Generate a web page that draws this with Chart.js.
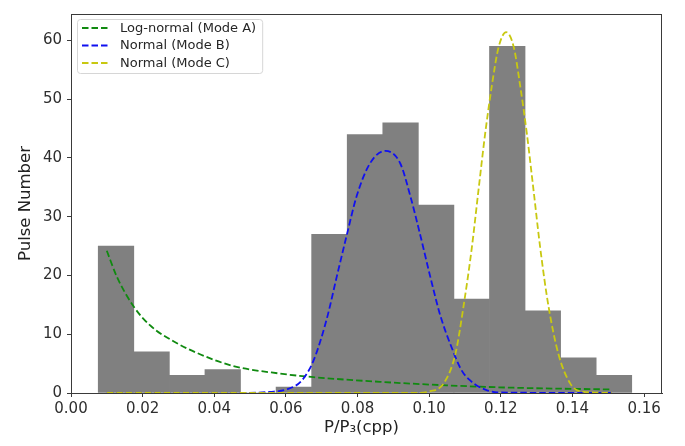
<!DOCTYPE html>
<html><head><meta charset="utf-8">
<script src="https://cdn.jsdelivr.net/npm/chart.js@4/dist/chart.umd.min.js"></script>
<style>html,body{margin:0;padding:0;background:#fff}#wrap{width:685px;height:446px;position:relative}</style>
</head><body><div id="wrap"><canvas id="c" width="685" height="446"></canvas></div>
<script>
// Histogram: bin centres (P/P3) and pulse counts
const binCenters = [0.01257, 0.0225, 0.03243, 0.04236, 0.05229, 0.06222, 0.07215, 0.08208, 0.09201, 0.10194, 0.11187, 0.1218, 0.13173, 0.14166, 0.15159];
const counts     = [25, 7, 3, 4, 0, 1, 27, 44, 46, 32, 16, 59, 14, 6, 3];

// Log-normal (Mode A) curve
const greenX = [0.0100, 0.0128, 0.0174, 0.0221, 0.0286, 0.0360, 0.0453, 0.0584, 0.0677, 0.0863, 0.1049, 0.1235, 0.1510];
const greenY = [24.2, 19.8, 14.8, 11.5, 8.8, 6.6, 4.6, 3.3, 2.7, 1.9, 1.3, 0.9, 0.6];

// Normal (Mode B) curve
const blueX = [0.010, 0.045, 0.0556, 0.0602, 0.0644, 0.0677, 0.0714, 0.0742, 0.0770, 0.0798, 0.0835, 0.0877, 0.0919, 0.0947, 0.0975, 0.1003, 0.1031, 0.1063, 0.1091, 0.1115, 0.1135, 0.1160, 0.1190, 0.1510];
const blueY = [0, 0, 0.2, 0.6, 2.1, 5.5, 12.6, 19.8, 26.9, 33.6, 39.1, 41.2, 39.1, 33.6, 26.9, 19.8, 13.2, 7.7, 3.8, 2.1, 1.2, 0.5, 0.1, 0];

// Normal (Mode C) curve
const yellowX = [0.010, 0.095, 0.1003, 0.1040, 0.1073, 0.1096, 0.1119, 0.1138, 0.1156, 0.1175, 0.1194, 0.1215, 0.1236, 0.1254, 0.1273, 0.1291, 0.1310, 0.1333, 0.1361, 0.1394, 0.1422, 0.1510];
const yellowY = [0, 0, 0.3, 1.6, 6.6, 14.8, 24.7, 34.7, 44.0, 52.3, 58.9, 61.4, 58.9, 52.3, 44.0, 34.7, 24.7, 14.8, 6.6, 1.6, 0.3, 0];

const seriesLabels = ['Log-normal (Mode A)', 'Normal (Mode B)', 'Normal (Mode C)'];
const xTickValues = [0.00, 0.02, 0.04, 0.06, 0.08, 0.10, 0.12, 0.14, 0.16];
const yTickValues = [0, 10, 20, 30, 40, 50, 60];
const xTitle = 'P/P\u2083(cpp)';
const yTitle = 'Pulse Number';

const pts = (xs, ys) => xs.map((x, i) => ({x: x, y: ys[i]}));
const DASH = [6.5, 3];
const FONT = '"DejaVu Sans", sans-serif';

const frameAndLegend = {
  id: 'frameAndLegend',
  afterDatasetsDraw(chart) {
    const ctx = chart.ctx, a = chart.chartArea;
    ctx.save();
    // axes frame
    ctx.strokeStyle = '#3a3a3a';
    ctx.lineWidth = 1;
    ctx.setLineDash([]);
    ctx.strokeRect(Math.round(a.left) + 0.5, Math.round(a.top) + 0.5, Math.round(a.right - a.left) - 1, Math.round(a.bottom - a.top));
    // legend
    const lines = chart.data.datasets.filter(d => d.type === 'line');
    ctx.font = '13px ' + FONT;
    let tw = 0;
    lines.forEach(d => { tw = Math.max(tw, ctx.measureText(d.label).width); });
    const x0 = a.left + 6, y0 = a.top + 5, rowH = 17.5;
    const w = 43 + tw + 6, h = 9 + (lines.length - 1) * rowH + 10;
    ctx.beginPath();
    ctx.roundRect(x0 + 0.5, y0 + 0.5, w, h, 3);
    ctx.fillStyle = 'rgba(255,255,255,0.85)';
    ctx.fill();
    ctx.strokeStyle = '#d6d6d6';
    ctx.stroke();
    lines.forEach((d, i) => {
      const cy = y0 + 9 + i * rowH;
      ctx.beginPath();
      ctx.setLineDash(d.borderDash);
      ctx.strokeStyle = d.borderColor;
      ctx.lineWidth = 1.8;
      ctx.moveTo(x0 + 5, cy);
      ctx.lineTo(x0 + 32, cy);
      ctx.stroke();
      ctx.setLineDash([]);
      ctx.fillStyle = '#262626';
      ctx.textBaseline = 'middle';
      ctx.textAlign = 'left';
      ctx.fillText(d.label, x0 + 43, cy + 0.5);
    });
    // x-axis title (sits slightly left of the axes centre in the reference)
    ctx.font = '16.5px ' + FONT;
    ctx.fillStyle = '#222';
    ctx.textAlign = 'center';
    ctx.textBaseline = 'middle';
    ctx.fillText(xTitle, (a.left + a.right) / 2 - 5, 428);
    ctx.restore();
  }
};

new Chart(document.getElementById('c'), {
  data: {
    datasets: [
      {type: 'bar', label: 'hist', data: pts(binCenters, counts), backgroundColor: '#808080', borderWidth: 0,
       barPercentage: 1.0, categoryPercentage: 1.0, order: 4},
      {type: 'line', label: seriesLabels[0], data: pts(greenX, greenY), borderColor: '#108a10', borderWidth: 1.8,
       borderDash: DASH, pointRadius: 0, cubicInterpolationMode: 'monotone', fill: false, order: 3},
      {type: 'line', label: seriesLabels[1], data: pts(blueX, blueY), borderColor: '#1010f0', borderWidth: 1.8,
       borderDash: DASH, pointRadius: 0, cubicInterpolationMode: 'monotone', fill: false, order: 2},
      {type: 'line', label: seriesLabels[2], data: pts(yellowX, yellowY), borderColor: '#c8c810', borderWidth: 1.8,
       borderDash: DASH, pointRadius: 0, cubicInterpolationMode: 'monotone', fill: false, order: 1}
    ]
  },
  options: {
    responsive: false,
    devicePixelRatio: 1,
    animation: false,
    layout: {padding: {left: 0, top: 3, right: 23, bottom: 0}},
    plugins: {legend: {display: false}, tooltip: {enabled: false}},
    scales: {
      x: {
        type: 'linear', min: 0, max: 0.165, offset: false,
        afterBuildTicks: s => { s.ticks = xTickValues.map(v => ({value: v})); },
        afterFit: s => { s.height = 53; },
        ticks: {callback: v => v.toFixed(2), color: '#2e2e2e', font: {family: FONT, size: 15}, padding: 3, maxRotation: 0, autoSkip: false},
        grid: {display: true, offset: false, drawOnChartArea: false, drawTicks: true, tickLength: 4, color: '#3a3a3a', lineWidth: 1},
        border: {display: true, color: '#3a3a3a'},
        title: {display: false, text: xTitle}
      },
      y: {
        type: 'linear', min: 0, max: 64.5,
        afterBuildTicks: s => { s.ticks = yTickValues.map(v => ({value: v})); },
        afterFit: s => { s.width = 71; },
        ticks: {color: '#2e2e2e', font: {family: FONT, size: 15}, padding: 5},
        grid: {display: true, offset: false, drawOnChartArea: false, drawTicks: true, tickLength: 4, color: '#3a3a3a', lineWidth: 1},
        border: {display: true, color: '#3a3a3a'},
        title: {display: true, text: yTitle, color: '#222', font: {family: FONT, size: 16.5}, padding: {top: 16, bottom: 0}}
      }
    }
  },
  plugins: [frameAndLegend]
});
</script></body></html>
